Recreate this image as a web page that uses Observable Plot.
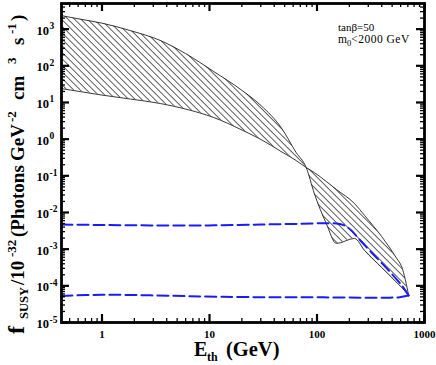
<!DOCTYPE html>
<html><head><meta charset="utf-8">
<script src="https://cdn.jsdelivr.net/npm/d3@7"></script>
<script src="https://cdn.jsdelivr.net/npm/@observablehq/plot@0.6"></script>
<style>html,body{margin:0;background:#fff;overflow:hidden} svg{display:block}</style>
</head><body><div id="chart"></div>
<script>
// ---- data ----
const bandE     = [0.42, 0.627, 1.0, 1.84, 3.51, 6.0, 10.97, 19.6, 30.2, 46.4, 64.0, 79.4, 94.4, 122, 151.5, 223, 277, 399, 551, 614, 713];
const bandCurveA = [2335, 1870, 1456, 910, 486, 215, 69.5, 22.4, 8.2, 2.07, 0.431, 0.168, 0.033, 5.0e-3, 1.43e-3, 1.96e-3, 9.2e-4, 3.17e-4, 1.24e-4, 9.0e-5, 5.47e-5];
const bandCurveB = [23.9, 19.8, 15.9, 12.4, 9.33, 6.61, 3.88, 1.83, 0.975, 0.459, 0.261, 0.168, 0.123, 0.070, 0.0424, 0.0176, 8.3e-3, 2.22e-3, 5.6e-4, 3.3e-4, 5.47e-5];
const dashHighE = [0.42, 1, 2.83, 9.85, 30.2, 71.4, 114.5, 151.5, 179.9, 209.2, 243.2, 321.7, 463.8, 613.7, 713];
const dashHighF = [4.7e-3, 4.56e-3, 4.45e-3, 4.45e-3, 4.7e-3, 4.92e-3, 5.11e-3, 5.01e-3, 4.42e-3, 3.23e-3, 1.96e-3, 8.13e-4, 2.63e-4, 1.03e-4, 5.47e-5];
const dashLowE = [0.42, 1, 2.83, 13.3, 114.5, 474, 588, 713];
const dashLowF = [5.3e-5, 5.7e-5, 5.5e-5, 5.0e-5, 4.85e-5, 4.75e-5, 4.9e-5, 5.47e-5];
const xTickValues = [1, 10, 100, 1000];
const xTickLabels = ["1", "10", "100", "1000"];
const yTickExponents = [3, 2, 1, 0, -1, -2, -3, -4, -5];
const noteLine1 = "tanβ=50";
const noteLine2 = ["m", "0", "<2000 GeV"];

// ---- build ----
const band = bandE.map((e, i) => ({E: e, a: bandCurveA[i], b: bandCurveB[i]}));
const dashHigh = dashHighE.map((e, i) => ({E: e, f: dashHighF[i]}));
const dashLow = dashLowE.map((e, i) => ({E: e, f: dashLowF[i]}));

const W = 436, H = 365, mL = 61, mR = 12, mT = 3, mB = 43;
const frameW = W - mL - mR, frameH = H - mT - mB;
const xDomain = [0.42, 1000], yDomain = [1e-5, 5000];

const xMinor = [];
for (const dec of [0.1, 1, 10, 100]) for (let k = 2; k <= 9; k++) {
  const v = k * dec; if (v > xDomain[0] && v < xDomain[1]) xMinor.push(v);
}
const yMinor = [];
for (let p = -5; p <= 3; p++) for (let k = 2; k <= 9; k++) {
  const v = k * 10 ** p; if (v < yDomain[1]) yMinor.push(v);
}
const yMajor = yTickExponents.map(e => 10 ** e);

const serif = "'Liberation Serif', 'Times New Roman', Times, serif";
const blue = "#1a1aff";

const svgNode = Plot.plot({
  width: W, height: H,
  marginLeft: mL, marginRight: mR, marginTop: mT, marginBottom: mB,
  style: {background: "white", fontFamily: serif},
  x: {type: "log", domain: xDomain, axis: null},
  y: {type: "log", domain: yDomain, axis: null},
  marks: [
    Plot.areaY(band, {x: "E", y1: "a", y2: "b", fill: "#888", stroke: "none", curve: "monotone-x"}),
    Plot.line(band, {x: "E", y: "a", stroke: "#222", strokeWidth: 0.9, curve: "monotone-x"}),
    Plot.line(band, {x: "E", y: "b", stroke: "#222", strokeWidth: 0.9, curve: "monotone-x"}),
    Plot.line(dashHigh, {x: "E", y: "f", stroke: blue, strokeWidth: 2, strokeDasharray: "11,5", curve: "catmull-rom"}),
    Plot.line(dashLow, {x: "E", y: "f", stroke: blue, strokeWidth: 2, strokeDasharray: "11,5", curve: "catmull-rom"}),
    // ticks, all pointing inward, on all four sides
    Plot.tickX(xTickValues, {x: d => d, insetTop: frameH - 8, strokeWidth: 2.2}),
    Plot.tickX(xTickValues, {x: d => d, insetBottom: frameH - 8, strokeWidth: 2.2}),
    Plot.tickX(xMinor, {x: d => d, insetTop: frameH - 4, strokeWidth: 1.3}),
    Plot.tickX(xMinor, {x: d => d, insetBottom: frameH - 4, strokeWidth: 1.3}),
    Plot.tickY(yMajor, {y: d => d, insetRight: frameW - 8, strokeWidth: 2.2}),
    Plot.tickY(yMajor, {y: d => d, insetLeft: frameW - 8, strokeWidth: 2.2}),
    Plot.tickY(yMinor, {y: d => d, insetRight: frameW - 4, strokeWidth: 1.3}),
    Plot.tickY(yMinor, {y: d => d, insetLeft: frameW - 4, strokeWidth: 1.3}),
    // tick labels
    Plot.text(xTickValues, {x: d => d, text: (d, i) => xTickLabels[i], frameAnchor: "bottom", lineAnchor: "bottom",
      dy: 15.5, fontSize: 11, fontWeight: "bold", fill: "black"}),
    Plot.text(yTickExponents, {y: e => 10 ** e, text: () => "10", frameAnchor: "left", textAnchor: "end", lineAnchor: "bottom",
      dx: -12.5, dy: 5.5, fontSize: 12.5, fontWeight: "bold", fill: "black"}),
    Plot.text(yTickExponents, {y: e => 10 ** e, text: e => String(e), frameAnchor: "left", textAnchor: "start", lineAnchor: "bottom",
      dx: -12, dy: 0, fontSize: 9.5, fontWeight: "bold", fill: "black"}),
    Plot.frame({stroke: "black", strokeWidth: 2.8})
  ]
});

const svg = d3.select(svgNode);
// hatch pattern for the band
const defs = svg.insert("defs", ":first-child");
const sp = 4.6;
const pat = defs.append("pattern").attr("id", "hatch").attr("patternUnits", "userSpaceOnUse")
  .attr("width", 20).attr("height", sp).attr("patternTransform", "rotate(45)");
pat.append("rect").attr("width", 20).attr("height", sp).attr("fill", "white");
pat.append("line").attr("x1", 0).attr("x2", 20).attr("y1", sp / 2).attr("y2", sp / 2)
  .attr("stroke", "#333").attr("stroke-width", 0.8);
svg.selectAll('g[aria-label="area"] path').attr("fill", "url(#hatch)");

// axis titles and annotation (text with sub/superscripts)
const yt = svg.append("text").attr("transform", "translate(24,334) rotate(-90)").attr("text-anchor", "start")
  .attr("font-family", serif).attr("font-weight", "bold").attr("fill", "black");
const parts = [
  ["f", 0, 0, 24], ["SUSY", 15, 4, 12.5], ["/10", 49, 0, 19], ["-32", 77, -8, 13],
  ["(Photons", 97, 0, 19], ["GeV", 173, 0, 19], ["-2", 212, -8, 13],
  ["cm", 234, 0, 19], ["3", 270, -8, 13], ["s", 289, 0, 19], ["-1", 300, -8, 13], [")", 313, 0, 19]
];
for (const [t, x, y, fs] of parts) yt.append("tspan").attr("x", x).attr("y", y).attr("font-size", fs).text(t);

const xt = svg.append("text").attr("text-anchor", "start").attr("font-family", serif).attr("font-weight", "bold").attr("fill", "black");
xt.append("tspan").attr("x", 194).attr("y", 356).attr("font-size", 20).text("E");
xt.append("tspan").attr("x", 207).attr("y", 361).attr("font-size", 12).text("th");
xt.append("tspan").attr("x", 226).attr("y", 356).attr("font-size", 20.5).text("(GeV)");

svg.append("text").attr("text-anchor", "start").attr("font-family", serif).attr("fill", "black").attr("font-size", 11)
  .attr("x", 338).attr("y", 31).text(noteLine1);
const n2 = svg.append("text").attr("text-anchor", "start").attr("font-family", serif).attr("fill", "black");
n2.append("tspan").attr("x", 338).attr("y", 43).attr("font-size", 11.5).text(noteLine2[0]);
n2.append("tspan").attr("y", 46).attr("font-size", 8.5).text(noteLine2[1]);
n2.append("tspan").attr("y", 43).attr("font-size", 11.5).attr("letter-spacing", 0.5).text(noteLine2[2]);

document.getElementById("chart").appendChild(svgNode);
</script>
</body></html>
